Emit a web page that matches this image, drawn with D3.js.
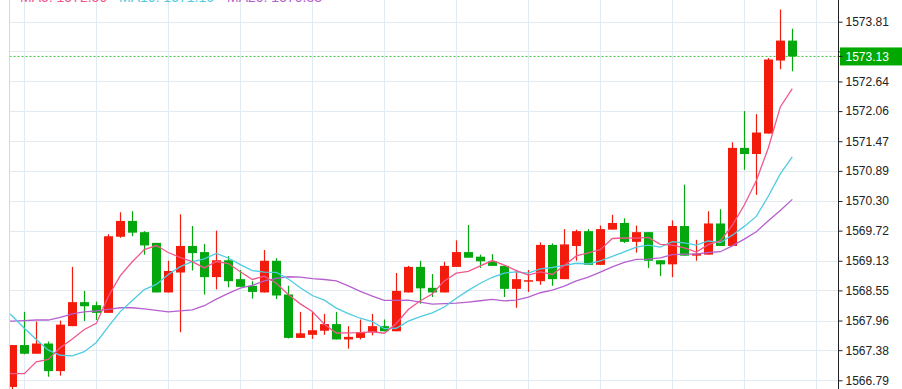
<!DOCTYPE html>
<html><head><meta charset="utf-8">
<script src="https://cdn.jsdelivr.net/npm/d3@7"></script>
<style>body{margin:0;background:#fff;} svg{display:block;font-family:"Liberation Sans",Arial,sans-serif;}</style>
</head><body><svg id="c" width="902" height="389"></svg>
<script>
const opens=[1566.66,1567.48,1567.31,1567.51,1566.97,1567.85,1568.32,1568.26,1568.11,1569.60,
1569.91,1569.69,1569.48,1568.51,1568.90,1569.42,1569.30,1568.81,1569.14,1568.77,
1568.64,1568.51,1569.13,1568.47,1567.62,1567.68,1567.76,1567.89,1567.59,1567.62,
1567.73,1567.85,1567.75,1568.51,1569.01,1568.60,1568.51,1569.01,1569.30,1569.21,
1569.12,1569.03,1568.58,1568.73,1568.73,1569.44,1568.77,1569.42,1569.71,1569.05,
1569.74,1569.87,1569.50,1569.69,1569.14,1569.06,1569.81,1569.23,1569.25,1569.86,
1569.42,1571.34,1571.22,1571.62,1573.05,1573.44];
const closes=[1567.48,1567.31,1567.51,1566.97,1567.88,1568.32,1568.24,1568.11,1569.61,1569.91,
1569.68,1569.43,1568.51,1568.93,1569.42,1569.28,1568.81,1569.14,1568.73,1568.62,
1568.52,1569.13,1568.45,1567.62,1567.71,1567.77,1567.89,1567.59,1567.64,1567.73,
1567.85,1567.75,1568.54,1569.01,1568.59,1568.51,1569.03,1569.30,1569.19,1569.12,
1569.03,1568.58,1568.77,1568.75,1569.44,1568.77,1569.45,1569.71,1569.05,1569.75,
1569.87,1569.50,1569.69,1569.13,1569.06,1569.81,1569.23,1569.27,1569.86,1569.42,
1571.34,1571.22,1571.64,1573.07,1573.44,1573.13];
const highs=[1567.48,1568.13,1567.94,1567.55,1567.96,1569.01,1568.54,1568.33,1569.65,1570.08,
1570.10,1569.71,1569.48,1569.13,1570.04,1569.81,1569.46,1569.72,1569.22,1568.95,
1568.73,1569.34,1569.18,1568.64,1568.13,1568.13,1568.09,1568.13,1567.85,1567.98,
1568.09,1567.98,1568.89,1569.03,1569.13,1568.87,1569.11,1569.53,1569.83,1569.25,
1569.26,1569.03,1568.95,1568.95,1569.49,1569.47,1569.75,1569.74,1569.75,1569.82,
1570.03,1569.96,1569.82,1569.69,1569.14,1569.92,1570.62,1569.54,1570.10,1570.14,
1571.45,1572.06,1572.00,1573.10,1574.05,1573.67];
const lows=[1566.62,1567.30,1567.31,1566.86,1566.88,1567.85,1567.95,1567.97,1568.11,1569.58,
1569.61,1569.25,1568.51,1568.51,1567.73,1568.94,1568.47,1568.57,1568.61,1568.62,
1568.39,1568.51,1568.38,1567.61,1567.62,1567.60,1567.68,1567.59,1567.41,1567.59,
1567.67,1567.75,1567.75,1568.51,1568.29,1568.42,1568.51,1569.01,1569.19,1568.99,
1569.03,1568.42,1568.21,1568.52,1568.66,1568.64,1568.77,1569.13,1569.05,1569.05,
1569.74,1569.48,1569.29,1568.99,1568.83,1568.81,1569.23,1569.13,1569.25,1569.42,
1569.42,1570.91,1570.42,1571.62,1572.88,1572.84];
// moving-average values before enough candles are on screen, index -1 onward
const ma5Head=[1566.95,1566.92,1566.92,1567.15,1567.20];
const ma10Head=[1568.23,1568.05,1567.81,1567.59,1567.38,1567.28,1567.27,1567.35,1567.53,1567.84];
const ma20Head=[1567.95,1567.95,1567.96,1567.97,1567.97,1568.02,1568.09,1568.13,1568.15,1568.18,
1568.21,1568.21,1568.19,1568.16,1568.13,1568.15,1568.17,1568.25,1568.38,1568.49];
const tickLabels=["1566.79","1567.38","1567.96","1568.55","1569.13","1569.72","1570.30","1570.89","1571.47","1572.06","1572.64","1573.23","1573.81"];
const lastPrice=1573.13;

const svg=d3.select("#c");
const left=9.5, axisX=838.5, H=389;
const x=d3.scaleLinear().domain([0,65]).range([12.3,792.3]);
const y=d3.scaleLinear().domain([1566.79,1573.81]).range([380.3,21.7]);
const tickValues=tickLabels.map(Number);
const colUp="#f21b0c", colDown="#04a70d";

// grid
const grid=svg.append("g").attr("stroke","#e2ebf2").attr("stroke-width",1);
grid.selectAll("line.h").data(tickValues).join("line")
 .attr("x1",left).attr("x2",axisX).attr("y1",d=>Math.round(y(d))+0.5).attr("y2",d=>Math.round(y(d))+0.5);
grid.selectAll("line.v").data(d3.range(1,68,6)).join("line")
 .attr("x1",d=>Math.round(x(d))+0.5).attr("x2",d=>Math.round(x(d))+0.5).attr("y1",0).attr("y2",H);
svg.append("line").attr("x1",left).attr("x2",left).attr("y1",0).attr("y2",H).attr("stroke","#d3d9de");

svg.append("defs").append("clipPath").attr("id","clip").append("rect").attr("x",10).attr("y",0).attr("width",axisX-10).attr("height",H);
const plot=svg.append("g").attr("clip-path","url(#clip)");

// last price dotted line
plot.append("line").attr("x1",left).attr("x2",axisX).attr("y1",y(lastPrice)).attr("y2",y(lastPrice))
 .attr("stroke","#3fbf3f").attr("stroke-dasharray","2,2").attr("stroke-width",1);

// candles
const idx=d3.range(opens.length);
const col=i=>closes[i]>=opens[i]?colUp:colDown;
plot.selectAll("line.w").data(idx).join("line")
 .attr("x1",i=>Math.round(x(i))+0.5).attr("x2",i=>Math.round(x(i))+0.5)
 .attr("y1",i=>y(highs[i])).attr("y2",i=>y(lows[i])).attr("stroke",col).attr("stroke-width",1.2);
plot.selectAll("rect.b").data(idx).join("rect")
 .attr("x",i=>Math.round(x(i))-4).attr("width",9)
 .attr("y",i=>y(Math.max(opens[i],closes[i])))
 .attr("height",i=>Math.max(1.5,Math.abs(y(opens[i])-y(closes[i]))))
 .attr("fill",col);

// moving averages
function ma(n,head){return d3.range(-1,opens.length).map(i=>({i,v:i>=n-1?d3.mean(closes.slice(i-n+1,i+1)):head[i+1]}));}
const series=[{d:ma(20,ma20Head),c:"#b660cf",name:"MA20"},{d:ma(10,ma10Head),c:"#4fcbe2",name:"MA10"},{d:ma(5,ma5Head),c:"#f0588d",name:"MA5"}];
const line=d3.line().x(p=>x(p.i)).y(p=>y(p.v));
series.forEach(s=>plot.append("path").attr("d",line(s.d)).attr("fill","none").attr("stroke",s.c).attr("stroke-width",1.3));

// legend (mostly cut off at top, as in the original)
const legendX={MA5:20,MA10:119,MA20:227};
series.slice().reverse().forEach(s=>{
 svg.append("text").attr("x",legendX[s.name]).attr("y",1.5).attr("fill",s.c).attr("font-size",14)
  .text(s.name+": "+s.d[s.d.length-1].v.toFixed(2));
});

// right axis
const yp=y(lastPrice);
const ax=svg.append("g").attr("transform",`translate(${axisX},0)`)
 .call(d3.axisRight(y).tickValues(tickValues).tickFormat((d,i)=>Math.abs(y(d)-yp)<12?"":tickLabels[i]).tickSize(4).tickPadding(3));
ax.select(".domain").remove();
ax.selectAll("text").attr("fill","#222").attr("font-size",12).attr("font-family","'Liberation Sans',Arial,sans-serif");
ax.selectAll("line").attr("stroke","#222");
svg.append("line").attr("x1",axisX).attr("x2",axisX).attr("y1",0).attr("y2",H).attr("stroke","#222");

// last price label
svg.append("rect").attr("x",axisX+1.5).attr("y",yp-9).attr("width",902-axisX-1.5).attr("height",18).attr("fill","#00a800");
svg.append("line").attr("x1",axisX).attr("x2",axisX+4).attr("y1",yp).attr("y2",yp).attr("stroke","#222");
svg.append("text").attr("x",axisX+7).attr("y",yp).attr("dy","0.34em").attr("fill","#fff").attr("font-size",12).text(d3.format(".2f")(lastPrice));
</script></body></html>
